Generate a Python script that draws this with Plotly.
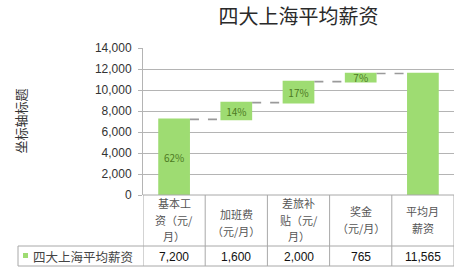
import plotly.graph_objects as go

# ---- data ----
categories = ["基本工资（元/月）", "加班费（元/月）", "差旅补贴（元/月）", "奖金（元/月）", "平均月薪资"]
header_lines = [["基本工", "资（元/", "月）"],
                ["加班费", "（元/月）"],
                ["差旅补", "贴（元/", "月）"],
                ["奖金", "（元/月）"],
                ["平均月", "薪资"]]
values = [7200, 1600, 2000, 765, 11565]
measures = ["relative", "relative", "relative", "relative", "total"]
pct_labels = ["62%", "14%", "17%", "7%", ""]
value_labels = ["7,200", "1,600", "2,000", "765", "11,565"]
series_name = "四大上海平均薪资"
title_text = "四大上海平均薪资"
y_title = "坐标轴标题"
y_ticks = [0, 2000, 4000, 6000, 8000, 10000, 12000, 14000]

W, H = 458, 274
L, R, T, B = 143, 4, 48, 79
PW, PH = W - L - R, H - T - B

def xp(px):
    return (px - L) / PW

def yp(py):
    return (H - B - py) / PH

CJK = "Noto Sans CJK SC"
GREEN = "#9edc72"
GRID = "#b4b4b4"
TBL = "#a8a8a8"

fig = go.Figure(go.Waterfall(
    x=list(range(len(categories))),
    y=values,
    measure=measures,
    text=pct_labels,
    textposition="inside",
    insidetextanchor="middle",
    textangle=0,
    constraintext="none",
    textfont=dict(family=CJK, size=10, color="#4d7a22"),
    increasing=dict(marker=dict(color=GREEN, line=dict(width=0))),
    totals=dict(marker=dict(color=GREEN, line=dict(width=0))),
    connector=dict(mode="between", line=dict(color="#9a9a9a", width=1.6, dash="dash")),
    width=0.51,
    name=series_name,
    showlegend=False,
))

fig.update_layout(
    width=W, height=H,
    margin=dict(l=L, r=R, t=T, b=B, pad=0),
    paper_bgcolor="white", plot_bgcolor="white",
    title=dict(text=title_text, x=0.5, xref="paper", xanchor="center",
               y=1 - 17 / H, yanchor="middle",
               font=dict(family=CJK, size=20, color="#2a2a2a")),
    xaxis=dict(range=[-0.5, 4.5], showticklabels=False, showgrid=False,
               zeroline=False, showline=False, ticks=""),
    yaxis=dict(range=[0, 14000], tickvals=y_ticks, tickformat=",d",
               showgrid=True, gridcolor=GRID, gridwidth=1,
               zeroline=False, showline=True, linecolor=GRID, linewidth=1,
               ticks="outside", ticklen=4, tickcolor=GRID,
               tickfont=dict(family="Liberation Sans", size=12, color="#333333"),
               ticklabelstandoff=4),
    font=dict(family=CJK),
)

shapes = []
# bottom axis line / table top
shapes.append(dict(type="line", xref="paper", yref="paper", x0=0, x1=1, y0=0, y1=0,
                   line=dict(color=TBL, width=1)))
# column dividers
for i in range(len(categories) + 1):
    shapes.append(dict(type="line", xref="x", yref="paper", x0=i - 0.5, x1=i - 0.5,
                       y0=yp(195), y1=yp(266), line=dict(color=TBL, width=1)))
# horizontal row lines
for py in (246, 266):
    shapes.append(dict(type="line", xref="paper", yref="paper", x0=xp(18), x1=1,
                       y0=yp(py), y1=yp(py), line=dict(color=TBL, width=1)))
# legend cell left border
shapes.append(dict(type="line", xref="paper", yref="paper", x0=xp(18), x1=xp(18),
                   y0=yp(246), y1=yp(266), line=dict(color=TBL, width=1)))
# legend key
shapes.append(dict(type="rect", xref="paper", yref="paper", x0=xp(23), x1=xp(28),
                   y0=yp(258), y1=yp(253), fillcolor=GREEN, line=dict(width=0)))
fig.update_layout(shapes=shapes)

ann = []
# y-axis title
ann.append(dict(text=y_title, xref="paper", yref="paper", x=xp(20), y=0.5,
                textangle=-90, showarrow=False, xanchor="center", yanchor="middle",
                font=dict(family=CJK, size=13, color="#333333")))
# header cells: one text per line, spaced so that lines do not collide
cell_mid = [219.5, 222.5, 219.5, 219.5, 219.5]
step = 16.3
for i, lines in enumerate(header_lines):
    n = len(lines)
    for j, ln in enumerate(lines):
        py = cell_mid[i] + (j - (n - 1) / 2) * step
        ann.append(dict(text=ln, xref="x", yref="paper", x=i, y=yp(py),
                        showarrow=False, xanchor="center", yanchor="middle",
                        font=dict(family=CJK, size=11, color="#555555")))
# value row
for i, v in enumerate(value_labels):
    ann.append(dict(text=v, xref="x", yref="paper", x=i, y=yp(256.5),
                    showarrow=False, xanchor="center", yanchor="middle",
                    font=dict(family="Liberation Sans", size=12, color="#111111")))
# legend label
ann.append(dict(text=series_name, xref="paper", yref="paper", x=xp(31), y=yp(256.5),
                showarrow=False, xanchor="left", yanchor="middle",
                font=dict(family=CJK, size=12.5, color="#444444")))
fig.update_layout(annotations=ann)

fig.write_html("out.html")
